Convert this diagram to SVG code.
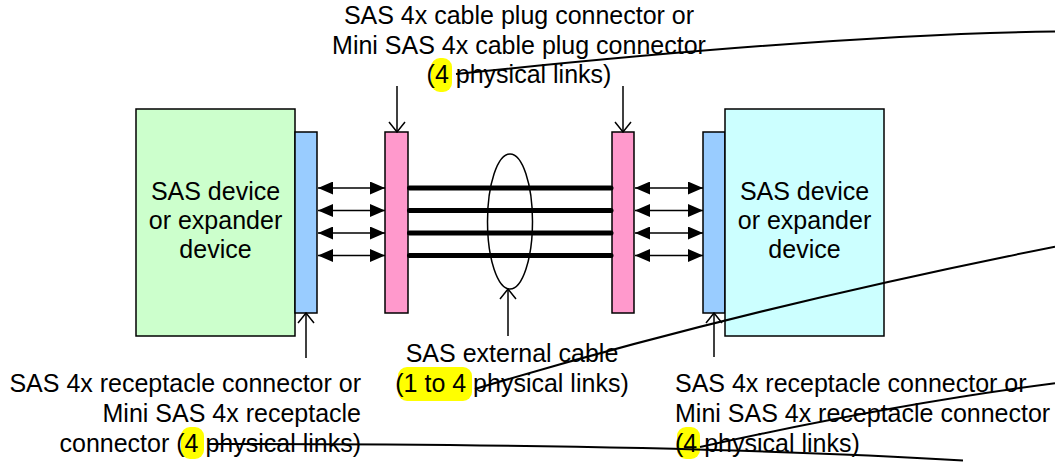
<svg xmlns="http://www.w3.org/2000/svg" width="1055" height="463" viewBox="0 0 1055 463">
  <style>
    text { font-family: "Liberation Sans", Arial, sans-serif; font-size: 25px; fill: #000; }
    .box { stroke: #000; stroke-width: 1.5; }
    .dev1 { fill: #CCFFCC; }
    .dev2 { fill: #CCFFFF; }
    .rcpt { fill: #99CCFF; }
    .plug { fill: #FF99CC; }
    .link { stroke: #000; stroke-width: 1.5; fill: none; }
    .wire { stroke: #000; stroke-width: 5; stroke-linecap: round; }
    .ptr { stroke: #000; stroke-width: 1.5; fill: none; }
    .hl { fill: #FFFF00; }
    .track { stroke: #000; stroke-width: 2; fill: none; }
  </style>
  <defs>
    <marker id="solid" viewBox="0 0 15 13" refX="15" refY="6.5" markerWidth="15" markerHeight="13" orient="auto-start-reverse" markerUnits="userSpaceOnUse">
      <path d="M0,0 L15,6.5 L0,13 z" fill="#000"/>
    </marker>
    <marker id="open" viewBox="-12 -10 13 20" refX="0" refY="0" markerWidth="13" markerHeight="20" orient="auto" markerUnits="userSpaceOnUse">
      <path d="M-10,-8 L0,0 L-10,8" fill="none" stroke="#000" stroke-width="1.5"/>
    </marker>
  </defs>

  <g id="left-device">
    <rect class="box dev1" x="136" y="109" width="159" height="227"/>
    <text x="215.5" y="200" text-anchor="middle">SAS device</text>
    <text x="215.5" y="229" text-anchor="middle">or expander</text>
    <text x="215.5" y="258" text-anchor="middle">device</text>
  </g>
  <g id="left-receptacle">
    <rect class="box rcpt" x="295" y="132" width="22" height="181"/>
  </g>
  <g id="left-plug">
    <rect class="box plug" x="385" y="132" width="23" height="181"/>
  </g>
  <g id="right-plug">
    <rect class="box plug" x="612" y="132" width="22" height="181"/>
  </g>
  <g id="right-receptacle">
    <rect class="box rcpt" x="703" y="132" width="22" height="181"/>
  </g>
  <g id="right-device">
    <rect class="box dev2" x="725" y="109" width="159" height="227"/>
    <text x="804.5" y="200" text-anchor="middle">SAS device</text>
    <text x="804.5" y="229" text-anchor="middle">or expander</text>
    <text x="804.5" y="258" text-anchor="middle">device</text>
  </g>
  <g id="cable">
    <line class="wire" x1="409.5" y1="188" x2="611" y2="188"/>
    <line class="wire" x1="409.5" y1="210.5" x2="611" y2="210.5"/>
    <line class="wire" x1="409.5" y1="233" x2="611" y2="233"/>
    <line class="wire" x1="409.5" y1="255.5" x2="611" y2="255.5"/>
    <ellipse class="ptr" cx="510" cy="221.5" rx="22.5" ry="67.5"/>
  </g>

  <g id="connectors">
    <line class="link" x1="318" y1="188" x2="385" y2="188" marker-start="url(#solid)" marker-end="url(#solid)"/>
    <line class="link" x1="318" y1="210.5" x2="385" y2="210.5" marker-start="url(#solid)" marker-end="url(#solid)"/>
    <line class="link" x1="318" y1="233" x2="385" y2="233" marker-start="url(#solid)" marker-end="url(#solid)"/>
    <line class="link" x1="318" y1="255.5" x2="385" y2="255.5" marker-start="url(#solid)" marker-end="url(#solid)"/>
    <line class="link" x1="635" y1="188" x2="703" y2="188" marker-start="url(#solid)" marker-end="url(#solid)"/>
    <line class="link" x1="635" y1="210.5" x2="703" y2="210.5" marker-start="url(#solid)" marker-end="url(#solid)"/>
    <line class="link" x1="635" y1="233" x2="703" y2="233" marker-start="url(#solid)" marker-end="url(#solid)"/>
    <line class="link" x1="635" y1="255.5" x2="703" y2="255.5" marker-start="url(#solid)" marker-end="url(#solid)"/>
    <line class="ptr" x1="397" y1="86" x2="397" y2="132" marker-end="url(#open)"/>
    <line class="ptr" x1="623" y1="86" x2="623" y2="132" marker-end="url(#open)"/>
    <line class="ptr" x1="306" y1="358" x2="306" y2="313" marker-end="url(#open)"/>
    <line class="ptr" x1="714" y1="357" x2="714" y2="313" marker-end="url(#open)"/>
    <line class="ptr" x1="508" y1="336" x2="508" y2="289" marker-end="url(#open)"/>
  </g>

  <g id="label-plug">
    <rect class="hl" x="431" y="58" width="21" height="34" rx="9"/>
    <text x="519" y="24" text-anchor="middle">SAS 4x cable plug connector or</text>
    <text x="519" y="53.5" text-anchor="middle">Mini SAS 4x cable plug connector</text>
    <text x="519" y="83" text-anchor="middle">(4 physical links)</text>
  </g>
  <g id="label-cable">
    <rect class="hl" x="398" y="367" width="74" height="34" rx="9"/>
    <text x="512" y="362" text-anchor="middle">SAS external cable</text>
    <text x="512" y="391.5" text-anchor="middle">(1 to 4 physical links)</text>
  </g>
  <g id="label-left-receptacle">
    <rect class="hl" x="181" y="427" width="23" height="32" rx="9"/>
    <text x="361" y="392" text-anchor="end">SAS 4x receptacle connector or</text>
    <text x="361" y="422" text-anchor="end">Mini SAS 4x receptacle</text>
    <text x="361" y="452" text-anchor="end">connector (4 physical links)</text>
  </g>
  <g id="label-right-receptacle">
    <rect class="hl" x="677" y="427" width="23" height="32" rx="9"/>
    <text x="675" y="392">SAS 4x receptacle connector or</text>
    <text x="675" y="422">Mini SAS 4x receptacle connector</text>
    <text x="675" y="452">(4 physical links)</text>
  </g>

  <g id="track-lines">
    <path class="track" d="M456,74 Q839,34 1055,31.5"/>
    <path class="track" d="M475,389 Q738,310 1055,246.7"/>
    <path class="track" d="M700,447 Q895,404 1055,383.3"/>
    <path class="track" d="M208,444 Q693,444 963,460.5"/>
  </g>
</svg>
